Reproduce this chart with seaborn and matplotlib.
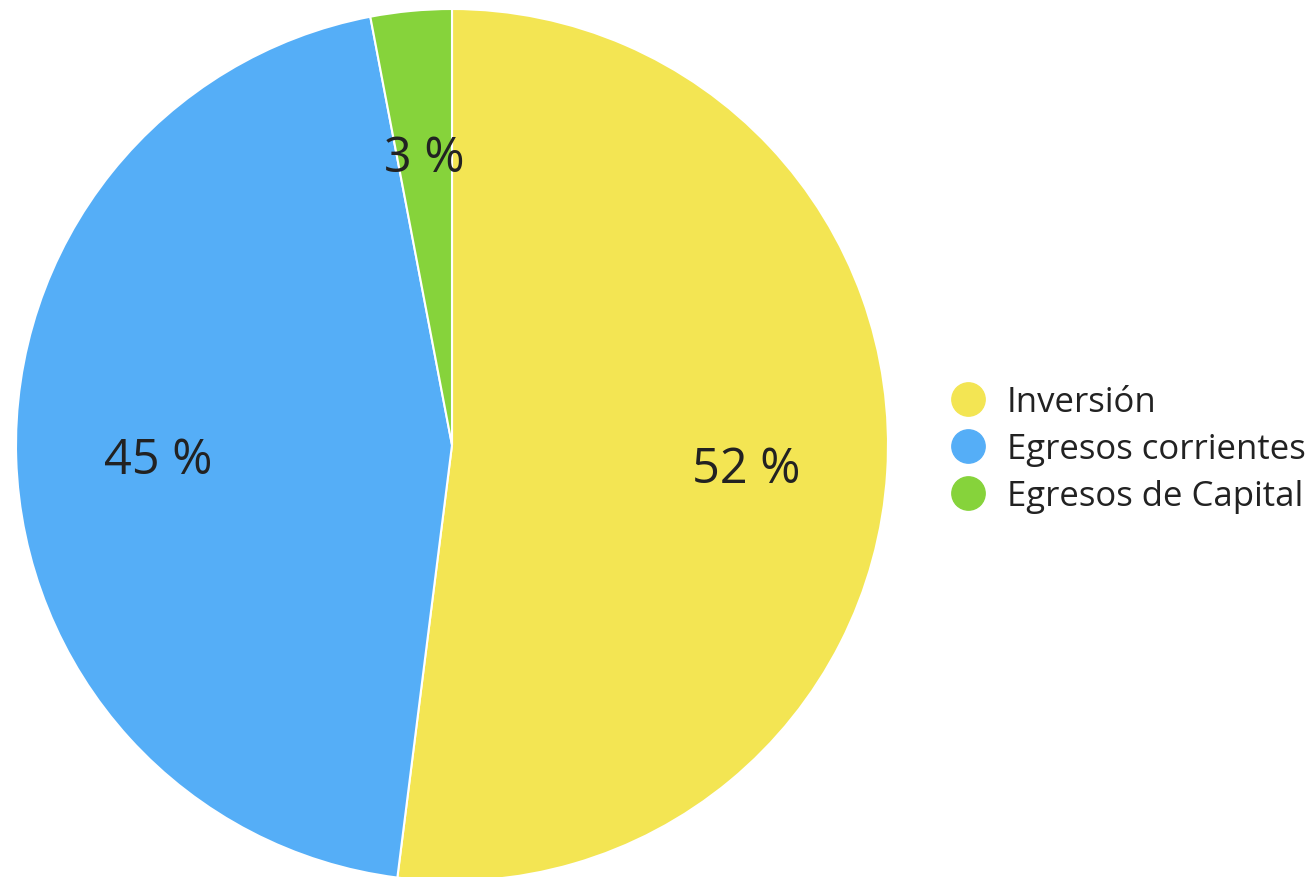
import matplotlib
matplotlib.use("Agg")
import matplotlib.pyplot as plt
from matplotlib.lines import Line2D
import seaborn as sns

# data
labels = ["Inversión", "Egresos corrientes", "Egresos de Capital"]
values = [52, 45, 3]
colors = ["#F3E553", "#55AEF7", "#86D33B"]

sns.set_theme(style="white")
plt.rcParams["font.family"] = ["Open Sans", "DejaVu Sans"]

fig = plt.figure(figsize=(13.13, 8.78), dpi=100)
ax = fig.add_axes([16 / 1313, -4 / 878, 872 / 1313, 872 / 878])

wedges, texts, autotexts = ax.pie(
    values, colors=colors, startangle=90, counterclock=False,
    autopct=lambda p: f"{p:.0f} %", pctdistance=0.675,
    wedgeprops=dict(edgecolor="white", linewidth=1.5),
    textprops=dict(fontsize=35, color="#222222"),
)
# nudge the percentage labels slightly down
for t in autotexts:
    x, y = t.get_position()
    t.set_position((x, y - 0.014))

ax.set_xlim(-1, 1)
ax.set_ylim(-1, 1)
ax.set_aspect("equal")
ax.axis("off")

handles = [Line2D([0], [0], marker="o", linestyle="none", markersize=24,
                  markerfacecolor=c, markeredgecolor=c) for c in colors]
fig.legend(handles, labels, loc="center left",
           bbox_to_anchor=(951 / 1313, (878 - 450) / 878),
           frameon=False, fontsize=25, labelcolor="#222222",
           handlelength=1.0, handletextpad=0.6, labelspacing=0.38,
           borderpad=0, borderaxespad=0)

fig.savefig("out.png", dpi=100, facecolor="white")
